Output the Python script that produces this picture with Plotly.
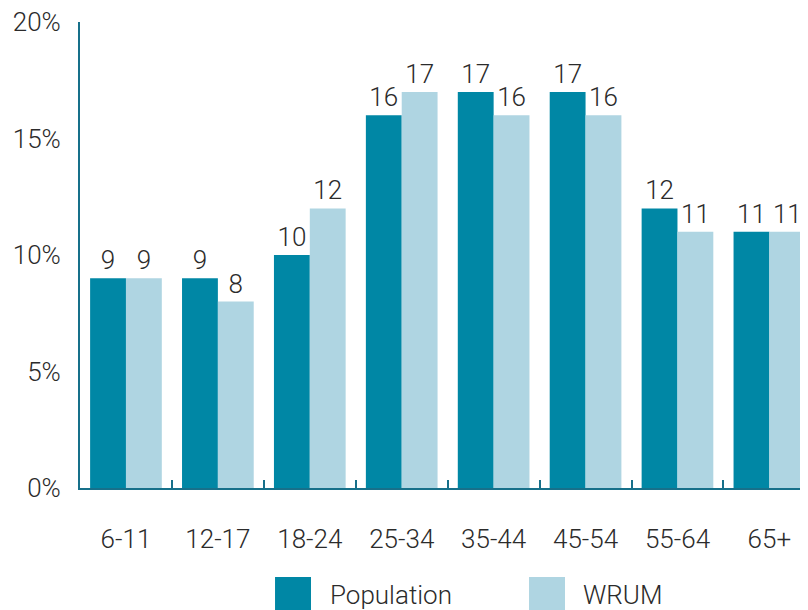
import plotly.graph_objects as go

categories = ["6-11", "12-17", "18-24", "25-34", "35-44", "45-54", "55-64", "65+"]
population = [9, 9, 10, 16, 17, 17, 12, 11]
wrum = [9, 8, 12, 17, 16, 16, 11, 11]
y_ticks = [0, 5, 10, 15, 20]
y_tick_labels = ["0%", "5%", "10%", "15%", "20%"]

POP_COLOR = "#0087A5"
WRUM_COLOR = "#AFD5E2"
AXIS_COLOR = "#17708A"
TEXT_COLOR = "#2b2b2b"
FONT = dict(family="Roboto", size=26, color=TEXT_COLOR, weight=300)

fig = go.Figure()
fig.add_trace(go.Bar(name="Population", x=categories, y=population, marker=dict(color=POP_COLOR, line=dict(width=0)),
                     text=population, textposition="outside", textfont=FONT, cliponaxis=False, showlegend=False))
fig.add_trace(go.Bar(name="WRUM", x=categories, y=wrum, marker=dict(color=WRUM_COLOR, line=dict(width=0)),
                     text=wrum, textposition="outside", textfont=FONT, cliponaxis=False, showlegend=False))

# legend drawn as shapes + text (large square swatches)
legend_items = [("Population", POP_COLOR, 0.2679, 0.3173, 0.3407), ("WRUM", WRUM_COLOR, 0.6168, 0.6662, 0.6882)]
for name, col, x0, x1, tx in legend_items:
    fig.add_shape(type="rect", xref="paper", yref="paper", x0=x0, x1=x1, y0=-0.2618, y1=-0.191,
                  fillcolor=col, line=dict(width=0))
    fig.add_annotation(xref="paper", yref="paper", x=tx, y=-0.2296, text=name, showarrow=False,
                       xanchor="left", yanchor="middle", font=FONT)

fig.update_layout(
    width=800, height=602,
    margin=dict(l=72, r=0, t=14, b=122),
    paper_bgcolor="white", plot_bgcolor="white",
    barmode="group", bargap=0.22, bargroupgap=0,
    font=FONT,
    showlegend=False,
)
fig.update_xaxes(
    type="category", range=[-0.5, 7.42], showgrid=False, zeroline=False,
    showline=True, linecolor=AXIS_COLOR, linewidth=2,
    ticks="inside", tickson="boundaries", ticklen=8, tickwidth=2, tickcolor=AXIS_COLOR,
    tickfont=FONT, ticklabelstandoff=27,
)
fig.update_yaxes(
    range=[0, 20], tickvals=y_ticks, ticktext=y_tick_labels, showgrid=False, zeroline=False,
    showline=True, linecolor=AXIS_COLOR, linewidth=2, ticks="", tickfont=FONT, ticklabelstandoff=12,
    ticklabeloverflow="allow",
)

fig.write_html("out.html")
